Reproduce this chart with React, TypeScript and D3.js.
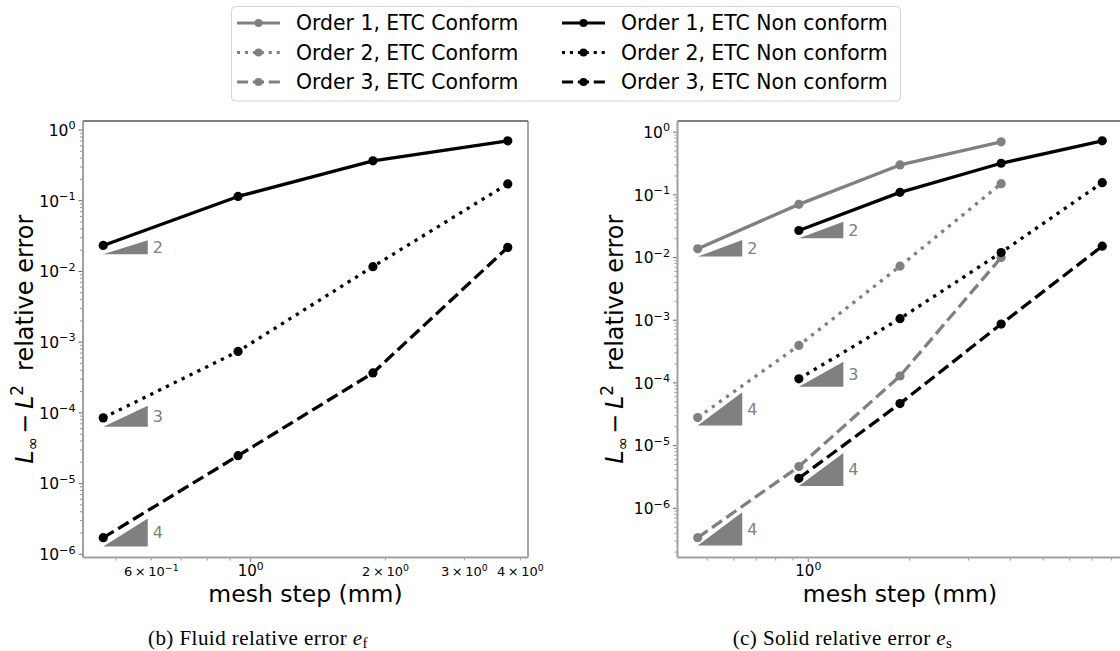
import React from "react";
import * as d3 from "d3";

// Mesh steps (mm) shared by both studies
const meshStep = [0.46875, 0.9375, 1.875, 3.75, 7.5];

// (b) fluid relative error, non conform ETC
const fluidOrder1NonConform = [0.0233, 0.115, 0.367, 0.703];
const fluidOrder2NonConform = [8.5e-5, 7.4e-4, 0.0117, 0.173];
const fluidOrder3NonConform = [1.72e-6, 2.48e-5, 3.67e-4, 0.0219];

// (c) solid relative error
const solidOrder1Conform = [0.0138, 0.0705, 0.3, 0.7];
const solidOrder1NonConform = [0.027, 0.1096, 0.319, 0.727];
const solidOrder2Conform = [2.8e-5, 3.96e-4, 7.27e-3, 0.151];
const solidOrder2NonConform = [1.16e-4, 1.06e-3, 0.012, 0.1566];
const solidOrder3Conform = [3.4e-7, 4.63e-6, 1.29e-4, 0.01];
const solidOrder3NonConform = [3.01e-6, 4.68e-5, 8.69e-4, 0.0152];

// Convergence-rate annotations: [series key, slope]
const fluidSlopes: [string, number][] = [
  ["o1nc", 2],
  ["o2nc", 3],
  ["o3nc", 4],
];
const solidSlopes: [string, number][] = [
  ["o1c", 2],
  ["o1nc", 2],
  ["o2c", 4],
  ["o2nc", 3],
  ["o3c", 4],
  ["o3nc", 4],
];

const legendConform = ["Order 1, ETC Conform", "Order 2, ETC Conform", "Order 3, ETC Conform"];
const legendNonConform = [
  "Order 1, ETC Non conform",
  "Order 2, ETC Non conform",
  "Order 3, ETC Non conform",
];

const fluidXTicks: [number, string, number][] = [
  // value, mantissa ("" for a pure power), exponent
  [0.6, "6", -1],
  [1, "", 0],
  [2, "2", 0],
  [3, "3", 0],
  [4, "4", 0],
];
const solidXTicks: [number, string, number][] = [[1, "", 0]];

const fluidCaption = "(b) Fluid relative error";
const solidCaption = "(c) Solid relative error";
const fluidSub = "f";
const solidSub = "s";

const GREY = "#808080";
const LW = 3.3;
const SANS = "DejaVu Sans";

type Style = "solid" | "dot" | "dash";
interface Series {
  key: string;
  x: number[];
  y: number[];
  color: string;
  style: Style;
}

const dashFor = (s: Style, lw: number) =>
  s === "dot" ? `${lw},${1.65 * lw}` : s === "dash" ? `${3.7 * lw},${1.6 * lw}` : undefined;

const fluidSeries: Series[] = [
  { key: "o1nc", x: meshStep.slice(0, 4), y: fluidOrder1NonConform, color: "#000", style: "solid" },
  { key: "o2nc", x: meshStep.slice(0, 4), y: fluidOrder2NonConform, color: "#000", style: "dot" },
  { key: "o3nc", x: meshStep.slice(0, 4), y: fluidOrder3NonConform, color: "#000", style: "dash" },
];
const solidSeries: Series[] = [
  { key: "o1c", x: meshStep.slice(0, 4), y: solidOrder1Conform, color: GREY, style: "solid" },
  { key: "o2c", x: meshStep.slice(0, 4), y: solidOrder2Conform, color: GREY, style: "dot" },
  { key: "o3c", x: meshStep.slice(0, 4), y: solidOrder3Conform, color: GREY, style: "dash" },
  { key: "o1nc", x: meshStep.slice(1, 5), y: solidOrder1NonConform, color: "#000", style: "solid" },
  { key: "o2nc", x: meshStep.slice(1, 5), y: solidOrder2NonConform, color: "#000", style: "dot" },
  { key: "o3nc", x: meshStep.slice(1, 5), y: solidOrder3NonConform, color: "#000", style: "dash" },
];

// log-space autoscale with 5% margins
function logDomain(vals: number[]): [number, number] {
  const lo = Math.log10(d3.min(vals)!);
  const hi = Math.log10(d3.max(vals)!);
  const m = 0.05 * (hi - lo);
  return [10 ** (lo - m), 10 ** (hi + m)];
}

function Sci({
  x,
  y,
  mant,
  exp,
  size,
  anchor,
}: {
  x: number;
  y: number;
  mant: string;
  exp: number;
  size: number;
  anchor: "end" | "middle";
}) {
  const e = exp < 0 ? `\u2212${-exp}` : `${exp}`;
  return (
    <text x={x} y={y} fontSize={size} fontFamily={SANS} textAnchor={anchor} fill="#000">
      {mant ? `${mant}\u2009\u00d7\u200910` : "10"}
      <tspan dy={-size * 0.42} fontSize={size * 0.72}>
        {e}
      </tspan>
    </text>
  );
}

interface PanelProps {
  frame: { x0: number; x1: number; y0: number; y1: number };
  series: Series[];
  slopes: [string, number][];
  xTicks: [number, string, number][];
  yLabelX: number;
  caption: string;
  captionSub: string;
  captionX: number;
}

function Panel({ frame, series, slopes, xTicks, yLabelX, caption, captionSub, captionX }: PanelProps) {
  const { x0, x1, y0, y1 } = frame;
  const xDom = logDomain(series.flatMap((s) => s.x));
  const yDom = logDomain(series.flatMap((s) => s.y));
  const x = d3.scaleLog().domain(xDom).range([x0, x1]);
  const y = d3.scaleLog().domain(yDom).range([y1, y0]);
  const line = d3
    .line<[number, number]>()
    .x((d) => x(d[0]))
    .y((d) => y(d[1]));

  // minor/major ticks
  const yMajor: number[] = [];
  const yMinor: number[] = [];
  for (let p = Math.floor(Math.log10(yDom[0])); p <= Math.ceil(Math.log10(yDom[1])); p++) {
    const v = 10 ** p;
    if (v >= yDom[0] && v <= yDom[1]) yMajor.push(p);
    for (let k = 2; k <= 9; k++) {
      const m = k * v;
      if (m >= yDom[0] && m <= yDom[1]) yMinor.push(m);
    }
  }
  const xAll: number[] = [];
  for (let p = Math.floor(Math.log10(xDom[0])); p <= Math.ceil(Math.log10(xDom[1])); p++) {
    for (let k = 1; k <= 9; k++) {
      const m = k * 10 ** p;
      if (m >= xDom[0] && m <= xDom[1]) xAll.push(m);
    }
  }

  // slope triangle width: a tenth of the axis span (in log space)
  const wFactor = (xDom[1] / xDom[0]) ** 0.1;

  return (
    <g>
      {/* frame */}
      <line x1={x0} x2={x1} y1={y0} y2={y0} stroke="#555" strokeWidth={1.3} />
      <line x1={x1} x2={x1} y1={y0} y2={y1} stroke="#777" strokeWidth={1.3} />
      <line x1={x0} x2={x0} y1={y0} y2={y1} stroke="#a0a0a0" strokeWidth={2} />
      <line x1={x0} x2={x1} y1={y1} y2={y1} stroke="#a0a0a0" strokeWidth={2} />

      {/* y ticks */}
      {yMinor.map((v, i) => (
        <line key={"ym" + i} x1={x0 - 1} x2={x0 - 3} y1={y(v)} y2={y(v)} stroke="#777" strokeWidth={0.8} />
      ))}
      {yMajor.map((p) => (
        <g key={"yM" + p}>
          <line x1={x0 - 1} x2={x0 - 4.5} y1={y(10 ** p)} y2={y(10 ** p)} stroke="#666" strokeWidth={1} />
          <Sci x={x0 - 7.5} y={y(10 ** p) + 5.8} mant="" exp={p} size={15.5} anchor="end" />
        </g>
      ))}

      {/* x ticks */}
      {xAll.map((v, i) => {
        const major = Math.abs(Math.log10(v) - Math.round(Math.log10(v))) < 1e-9;
        return (
          <line
            key={"xt" + i}
            x1={x(v)}
            x2={x(v)}
            y1={y1 + 1}
            y2={y1 + (major ? 4.5 : 3)}
            stroke="#777"
            strokeWidth={major ? 1 : 0.8}
          />
        );
      })}
      {xTicks.map(([v, mant, exp]) => (
        <Sci
          key={"xl" + v}
          x={x(v)}
          y={y1 + 18.5}
          mant={mant}
          exp={exp}
          size={mant ? 13 : 15}
          anchor="middle"
        />
      ))}

      {/* slope triangles */}
      {slopes.map(([key, slope]) => {
        const s = series.find((d) => d.key === key)!;
        const xa = s.x[0];
        const xb = xa * wFactor;
        const yb = s.y[0] * 0.75;
        const yt = yb * wFactor ** slope;
        const pts = [
          [x(xa), y(yb)],
          [x(xb), y(yb)],
          [x(xb), y(yt)],
        ];
        return (
          <g key={"tri" + key}>
            <polygon points={pts.map((p) => p.join(",")).join(" ")} fill={GREY} />
            <text
              x={x(xb) + 5}
              y={(y(yb) + y(yt)) / 2 + 5.8}
              fontSize={16}
              fontFamily={SANS}
              fill={GREY}
            >
              {slope}
            </text>
          </g>
        );
      })}

      {/* series */}
      {series.map((s) => {
        const pts = s.x.map((xv, i) => [xv, s.y[i]] as [number, number]);
        return (
          <g key={s.key}>
            <path
              d={line(pts)!}
              fill="none"
              stroke={s.color}
              strokeWidth={LW}
              strokeDasharray={dashFor(s.style, LW)}
              strokeLinejoin="round"
            />
            {pts.map((p, i) => (
              <circle key={i} cx={x(p[0])} cy={y(p[1])} r={4.6} fill={s.color} />
            ))}
          </g>
        );
      })}

      {/* axis labels */}
      <text
        x={(x0 + x1) / 2}
        y={602}
        fontSize={23.5}
        fontFamily={SANS}
        textAnchor="middle"
        fill="#000"
      >
        mesh step (mm)
      </text>
      <text
        transform={`translate(${yLabelX},${(y0 + y1) / 2}) rotate(-90)`}
        fontSize={24}
        fontFamily={SANS}
        textAnchor="middle"
        fill="#000"
      >
        <tspan fontStyle="italic">L</tspan>
        <tspan dy={5} fontSize={16}>
          {"\u221e"}
        </tspan>
        <tspan dy={-5} dx={3}>
          {"\u2212"}
        </tspan>
        <tspan dx={5} fontStyle="italic">
          L
        </tspan>
        <tspan dy={-10} fontSize={16.8}>
          2
        </tspan>
        <tspan dy={10} dx={14}>
          relative error
        </tspan>
      </text>

      {/* caption */}
      <text
        x={captionX}
        y={644.5}
        fontSize={21}
        fontFamily="Liberation Serif"
        textAnchor="middle"
        letterSpacing={0.45}
        fill="#000"
      >
        {caption + " "}
        <tspan fontStyle="italic">e</tspan>
        <tspan dy={3.5} fontSize={15}>
          {captionSub}
        </tspan>
      </text>
    </g>
  );
}

function Legend() {
  const rowY = [23, 52.5, 82];
  const cols = [
    { hx: 237, labels: legendConform, color: GREY },
    { hx: 562, labels: legendNonConform, color: "#000" },
  ];
  const styles: Style[] = ["solid", "dot", "dash"];
  const lw = 3;
  return (
    <g>
      <rect x={231.5} y={6.5} width={669} height={94.5} rx={4} fill="#fff" stroke="#d4d4d4" strokeWidth={1} />
      {cols.map((c, ci) =>
        c.labels.map((lab, i) => (
          <g key={ci + "-" + i}>
            <line
              x1={c.hx}
              x2={c.hx + 43}
              y1={rowY[i]}
              y2={rowY[i]}
              stroke={c.color}
              strokeWidth={lw}
              strokeDasharray={dashFor(styles[i], lw)}
            />
            <circle cx={c.hx + 21.5} cy={rowY[i]} r={4} fill={c.color} />
            <text
              x={c.hx + 59}
              y={rowY[i] + 7.3}
              fontSize={20.4}
              fontFamily={SANS}
              fill="#000"
            >
              {lab}
            </text>
          </g>
        ))
      )}
    </g>
  );
}

export default function App() {
  return (
    <svg
      width={1120}
      height={651}
      style={{ position: "absolute", left: 0, top: 0, background: "#fff" }}
    >
      <rect width={1120} height={651} fill="#fff" />
      <Legend />
      <Panel
        frame={{ x0: 83, x1: 528, y0: 121, y1: 557.5 }}
        series={fluidSeries}
        slopes={fluidSlopes}
        xTicks={fluidXTicks}
        yLabelX={33}
        caption={fluidCaption}
        captionSub={fluidSub}
        captionX={258}
      />
      <Panel
        frame={{ x0: 677.5, x1: 1122.5, y0: 121, y1: 557.5 }}
        series={solidSeries}
        slopes={solidSlopes}
        xTicks={solidXTicks}
        yLabelX={623}
        caption={solidCaption}
        captionSub={solidSub}
        captionX={842.5}
      />
    </svg>
  );
}
